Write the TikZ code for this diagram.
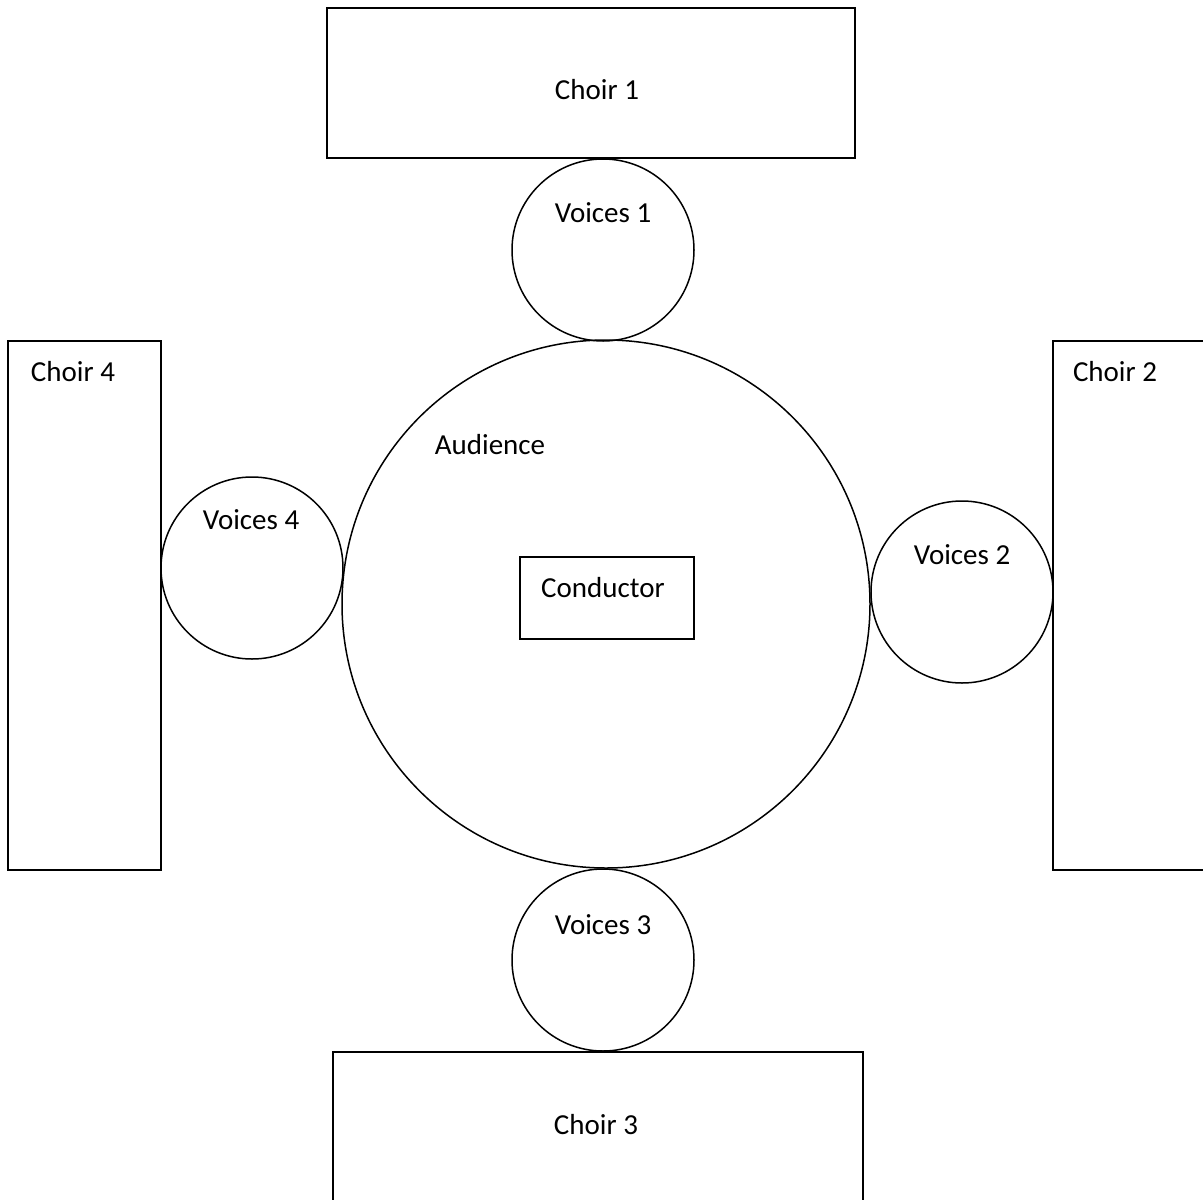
\documentclass[tikz,border=0pt]{standalone}
\usepackage{fontspec}
\setmainfont{Carlito}
\begin{document}
\begin{tikzpicture}[x=1pt,y=-1pt,
  shp/.style={draw=black,line width=1.5pt,inner sep=0pt,outer sep=0pt},
  boxshape/.style={shp,rectangle},
  ringshape/.style={shp,circle},
  lbl/.style={inner sep=0pt,font=\fontsize{29}{35}\selectfont}]
\useasboundingbox (0,0) rectangle (1203,1200);
\node[boxshape,minimum width=528pt,minimum height=150pt] (c1) at (591,83) {};
\node[ringshape,minimum size=182pt] (v1) at (603,250) {};
\node[ringshape,minimum size=528pt] (aud) at (606,604) {};
\node[boxshape,minimum width=174pt,minimum height=82pt] (cond) at (607,598) {};
\node[ringshape,minimum size=182pt] (v2) at (962,592) {};
\node[boxshape,minimum width=170pt,minimum height=529pt] (c2) at (1138,605.5) {};
\node[boxshape,minimum width=153pt,minimum height=529pt] (c4) at (84.5,605.5) {};
\node[ringshape,minimum size=182pt] (v4) at (252,568) {};
\node[ringshape,minimum size=182pt] (v3) at (603,960) {};
\node[boxshape,minimum width=530pt,minimum height=170pt] (c3) at (598,1137) {};
\node[lbl] (tc1) at (597,90) {Choir 1};
\node[lbl] (tv1) at (603,213) {Voices 1};
\node[lbl] (taud) at (490,445) {Audience};
\node[lbl] (tcond) at (603,588) {Conductor};
\node[lbl] (tv2) at (962,555) {Voices 2};
\node[lbl] (tc2) at (1115,372) {Choir 2};
\node[lbl] (tc4) at (73,372) {Choir 4};
\node[lbl] (tv4) at (251,520) {Voices 4};
\node[lbl] (tv3) at (603,925) {Voices 3};
\node[lbl] (tc3) at (596,1125) {Choir 3};
\end{tikzpicture}
\end{document}
